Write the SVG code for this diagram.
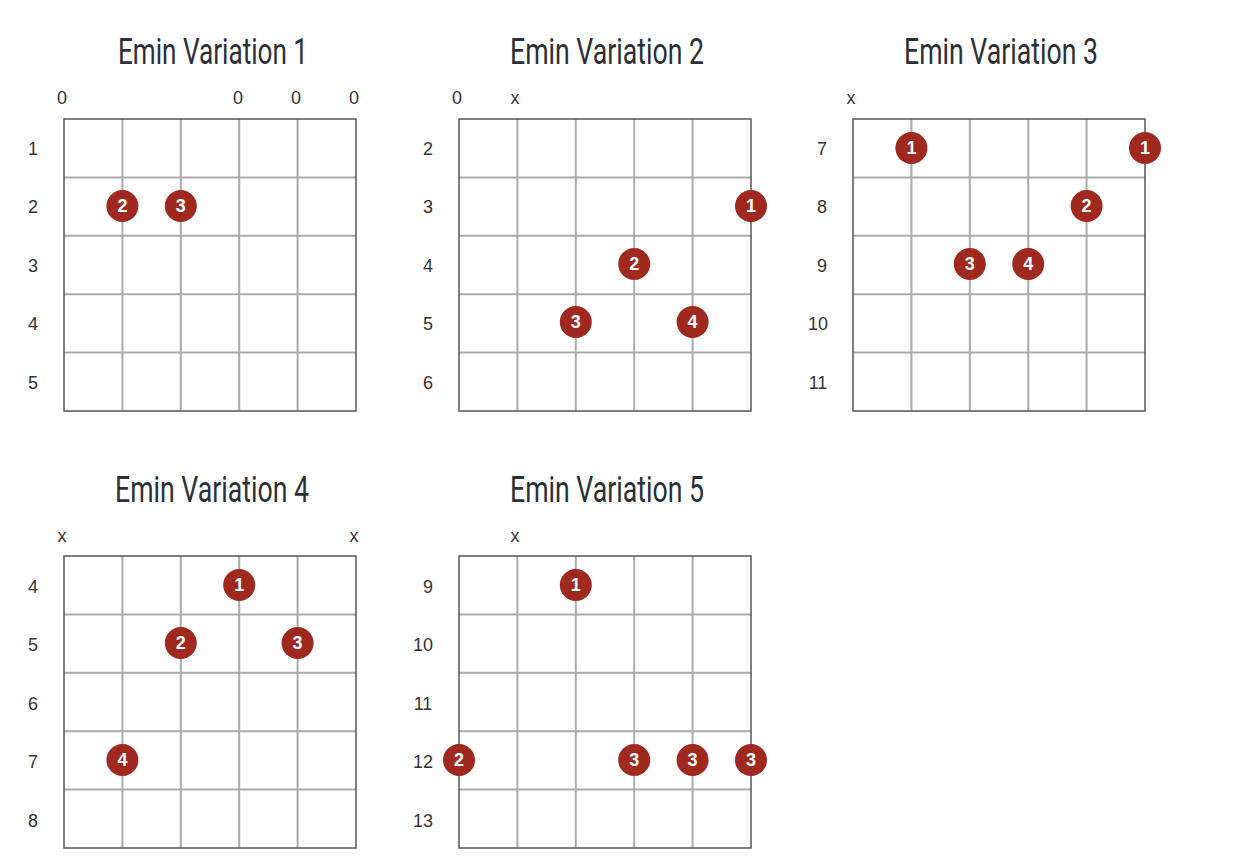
<svg xmlns="http://www.w3.org/2000/svg" width="1239" height="856" viewBox="0 0 1239 856">
<style>
.title{font-family:Roboto,"Liberation Sans",sans-serif;font-size:36px;font-weight:400;fill:#2a2f38;text-anchor:middle}
.lbl{font-family:"Liberation Sans",Arial,sans-serif;font-size:18px;fill:#333;text-anchor:middle;dominant-baseline:central}
.in{stroke:#aaaaaa;stroke-width:2;fill:none}
.out{stroke:#555;stroke-width:1.5;fill:none}
.dot{fill:#a0291f}
.num{font-family:"Liberation Sans",Arial,sans-serif;font-size:18px;font-weight:bold;fill:#fff;text-anchor:middle;dominant-baseline:central}
</style>
<defs>
<g id="grid">
<path class="in" d="M58.4 0V292M116.8 0V292M175.2 0V292M233.6 0V292M0 58.4H292M0 116.8H292M0 175.2H292M0 233.6H292"/>
<rect class="out" x="0" y="0" width="292" height="292"/>
</g>
</defs>
<rect width="1239" height="856" fill="#fff"/>

<g id="v1">
<text class="title" x="213" y="64" textLength="190" lengthAdjust="spacingAndGlyphs">Emin Variation 1</text>
<use href="#grid" x="64" y="119"/>
<text class="lbl" x="62" y="98">0</text><text class="lbl" x="238" y="98">0</text><text class="lbl" x="296" y="98">0</text><text class="lbl" x="354" y="98">0</text>
<text class="lbl" x="33" y="149">1</text><text class="lbl" x="33" y="207">2</text><text class="lbl" x="33" y="266">3</text><text class="lbl" x="33" y="324">4</text><text class="lbl" x="33" y="383">5</text>
<circle class="dot" cx="122.4" cy="206" r="16"/><text class="num" x="122.4" y="206">2</text>
<circle class="dot" cx="180.8" cy="206" r="16"/><text class="num" x="180.8" y="206">3</text>
</g>

<g id="v2">
<text class="title" x="607" y="64" textLength="194" lengthAdjust="spacingAndGlyphs">Emin Variation 2</text>
<use href="#grid" x="459" y="119"/>
<text class="lbl" x="457" y="98">0</text><text class="lbl" x="515" y="98">x</text>
<text class="lbl" x="428" y="149">2</text><text class="lbl" x="428" y="207">3</text><text class="lbl" x="428" y="266">4</text><text class="lbl" x="428" y="324">5</text><text class="lbl" x="428" y="383">6</text>
<circle class="dot" cx="751" cy="206" r="16"/><text class="num" x="751" y="206">1</text>
<circle class="dot" cx="634.2" cy="264" r="16"/><text class="num" x="634.2" y="264">2</text>
<circle class="dot" cx="575.8" cy="322" r="16"/><text class="num" x="575.8" y="322">3</text>
<circle class="dot" cx="692.6" cy="322" r="16"/><text class="num" x="692.6" y="322">4</text>
</g>

<g id="v3">
<text class="title" x="1001" y="64" textLength="194" lengthAdjust="spacingAndGlyphs">Emin Variation 3</text>
<use href="#grid" x="853" y="119"/>
<text class="lbl" x="851" y="98">x</text>
<text class="lbl" x="822" y="149">7</text><text class="lbl" x="822" y="207">8</text><text class="lbl" x="822" y="266">9</text><text class="lbl" x="818" y="324">10</text><text class="lbl" x="818" y="383">11</text>
<circle class="dot" cx="911.4" cy="148" r="16"/><text class="num" x="911.4" y="148">1</text>
<circle class="dot" cx="1145" cy="148" r="16"/><text class="num" x="1145" y="148">1</text>
<circle class="dot" cx="1086.6" cy="206" r="16"/><text class="num" x="1086.6" y="206">2</text>
<circle class="dot" cx="969.8" cy="264" r="16"/><text class="num" x="969.8" y="264">3</text>
<circle class="dot" cx="1028.2" cy="264" r="16"/><text class="num" x="1028.2" y="264">4</text>
</g>

<g id="v4">
<text class="title" x="212" y="502" textLength="194" lengthAdjust="spacingAndGlyphs">Emin Variation 4</text>
<use href="#grid" x="64" y="556"/>
<text class="lbl" x="62" y="536">x</text><text class="lbl" x="354" y="536">x</text>
<text class="lbl" x="33" y="587">4</text><text class="lbl" x="33" y="645">5</text><text class="lbl" x="33" y="704">6</text><text class="lbl" x="33" y="762">7</text><text class="lbl" x="33" y="821">8</text>
<circle class="dot" cx="239.2" cy="585" r="16"/><text class="num" x="239.2" y="585">1</text>
<circle class="dot" cx="180.8" cy="643" r="16"/><text class="num" x="180.8" y="643">2</text>
<circle class="dot" cx="297.6" cy="643" r="16"/><text class="num" x="297.6" y="643">3</text>
<circle class="dot" cx="122.4" cy="760" r="16"/><text class="num" x="122.4" y="760">4</text>
</g>

<g id="v5">
<text class="title" x="607" y="502" textLength="194" lengthAdjust="spacingAndGlyphs">Emin Variation 5</text>
<use href="#grid" x="459" y="556"/>
<text class="lbl" x="515" y="536">x</text>
<text class="lbl" x="428" y="587">9</text><text class="lbl" x="423" y="645">10</text><text class="lbl" x="423" y="704">11</text><text class="lbl" x="423" y="762">12</text><text class="lbl" x="423" y="821">13</text>
<circle class="dot" cx="575.8" cy="585" r="16"/><text class="num" x="575.8" y="585">1</text>
<circle class="dot" cx="459" cy="760" r="16"/><text class="num" x="459" y="760">2</text>
<circle class="dot" cx="634.2" cy="760" r="16"/><text class="num" x="634.2" y="760">3</text>
<circle class="dot" cx="692.6" cy="760" r="16"/><text class="num" x="692.6" y="760">3</text>
<circle class="dot" cx="751" cy="760" r="16"/><text class="num" x="751" y="760">3</text>
</g>
</svg>
